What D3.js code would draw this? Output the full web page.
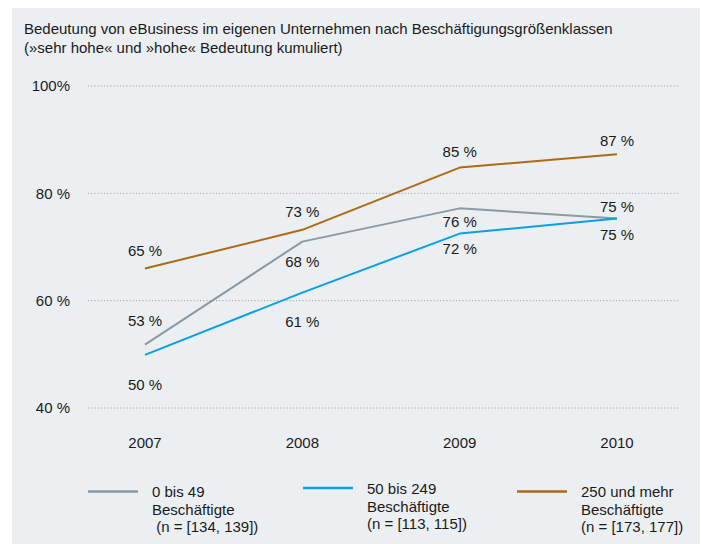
<!DOCTYPE html>
<html>
<head>
<meta charset="utf-8">
<script src="https://cdn.jsdelivr.net/npm/d3@7"></script>
<style>
  body { margin: 0; background: #fff; }
  svg text { font-family: "Liberation Sans", Arial, sans-serif; fill: #1a1a1a; font-size: 15px; }
</style>
</head>
<body>
<div id="chart"></div>
<script>
// data
var years = ["2007", "2008", "2009", "2010"];
var yTicks = [40, 60, 80, 100];
var yTickLabels = ["40 %", "60 %", "80 %", "100%"];
var small = [51.8, 71, 77.2, 75.3];        // 0 bis 49
var medium = [49.9, 61.5, 72.5, 75.3];     // 50 bis 249
var large = [66, 73.2, 84.8, 87.3];        // 250 und mehr
var smallLabels = ["53 %", "68 %", "76 %", "75 %"];
var mediumLabels = ["50 %", "61 %", "72 %", "75 %"];
var largeLabels = ["65 %", "73 %", "85 %", "87 %"];
var legendNames = [
    ["0 bis 49", "Beschäftigte", " (n = [134, 139])"],
    ["50 bis 249", "Beschäftigte", "(n = [113, 115])"],
    ["250 und mehr", "Beschäftigte", "(n = [173, 177])"]
];
var titleLines = [
    "Bedeutung von eBusiness im eigenen Unternehmen nach Beschäftigungsgrößenklassen",
    "(»sehr hohe« und »hohe« Bedeutung kumuliert)"
];

var colors = ["#8b9aa4", "#0a9fe0", "#ad6a12"];

const width = 701, height = 544;

const svg = d3.select("#chart")
    .append("svg")
    .attr("width", width)
    .attr("height", height);

svg.append("rect")
    .attr("x", 12).attr("y", 8)
    .attr("width", 688).attr("height", 536)
    .attr("fill", "#ebeff2");

svg.selectAll(".title")
    .data(titleLines)
    .enter().append("text")
    .attr("class", "title")
    .attr("x", 24)
    .attr("y", (d, i) => 29 + i * 19)
    .attr("dy", "0.35em")
    .text(d => d);

const x = d3.scalePoint()
    .domain(years)
    .range([145, 617]);

const y = d3.scaleLinear()
    .domain([40, 100])
    .range([408, 86]);

// grid lines
svg.selectAll(".grid")
    .data(yTicks)
    .enter().append("line")
    .attr("class", "grid")
    .attr("x1", 88).attr("x2", 678)
    .attr("y1", d => y(d)).attr("y2", d => y(d))
    .attr("stroke", "#8e959b")
    .attr("stroke-width", 1)
    .attr("stroke-dasharray", "1,2.2");

// y tick labels
svg.selectAll(".ytick")
    .data(yTicks)
    .enter().append("text")
    .attr("class", "ytick")
    .attr("x", 70)
    .attr("y", d => y(d))
    .attr("dy", "0.35em")
    .attr("text-anchor", "end")
    .text((d, i) => yTickLabels[i]);

// x axis labels
svg.selectAll(".xtick")
    .data(years)
    .enter().append("text")
    .attr("class", "xtick")
    .attr("x", d => x(d))
    .attr("y", 443)
    .attr("dy", "0.35em")
    .attr("text-anchor", "middle")
    .text(d => d);

const line = d3.line()
    .x((d, i) => x(years[i]))
    .y(d => y(d));

var series = [small, medium, large];
var labels = [smallLabels, mediumLabels, largeLabels];
// vertical label offsets from the point
var labelDy = [
    [-24, 20, 13, -12],
    [30, 29, 15, 16],
    [-18, -18, -16, -13]
];

series.forEach((values, s) => {
    svg.append("path")
        .datum(values)
        .attr("fill", "none")
        .attr("stroke", colors[s])
        .attr("stroke-width", 2)
        .attr("stroke-linejoin", "round")
        .attr("d", line);

    svg.selectAll(".lab" + s)
        .data(values)
        .enter().append("text")
        .attr("class", "lab" + s)
        .attr("x", (d, i) => x(years[i]))
        .attr("y", (d, i) => y(d) + labelDy[s][i])
        .attr("dy", "0.35em")
        .attr("text-anchor", "middle")
        .text((d, i) => labels[s][i]);
});

// legend
var legendX = [88, 303, 517];
var legendY = [491.5, 488, 491.5];
var legendTextY = [492, 489, 492];
var legendTextX = [152, 367, 581];

legendNames.forEach((names, s) => {
    svg.append("line")
        .attr("x1", legendX[s]).attr("x2", legendX[s] + 50)
        .attr("y1", legendY[s]).attr("y2", legendY[s])
        .attr("stroke", colors[s])
        .attr("stroke-width", 2.6);

    names.forEach((t, j) => {
        svg.append("text")
            .attr("x", legendTextX[s])
            .attr("y", legendTextY[s] + j * 17.5)
            .attr("dy", "0.35em")
            .attr("xml:space", "preserve")
            .style("white-space", "pre")
            .text(t);
    });
});
</script>
</body>
</html>
